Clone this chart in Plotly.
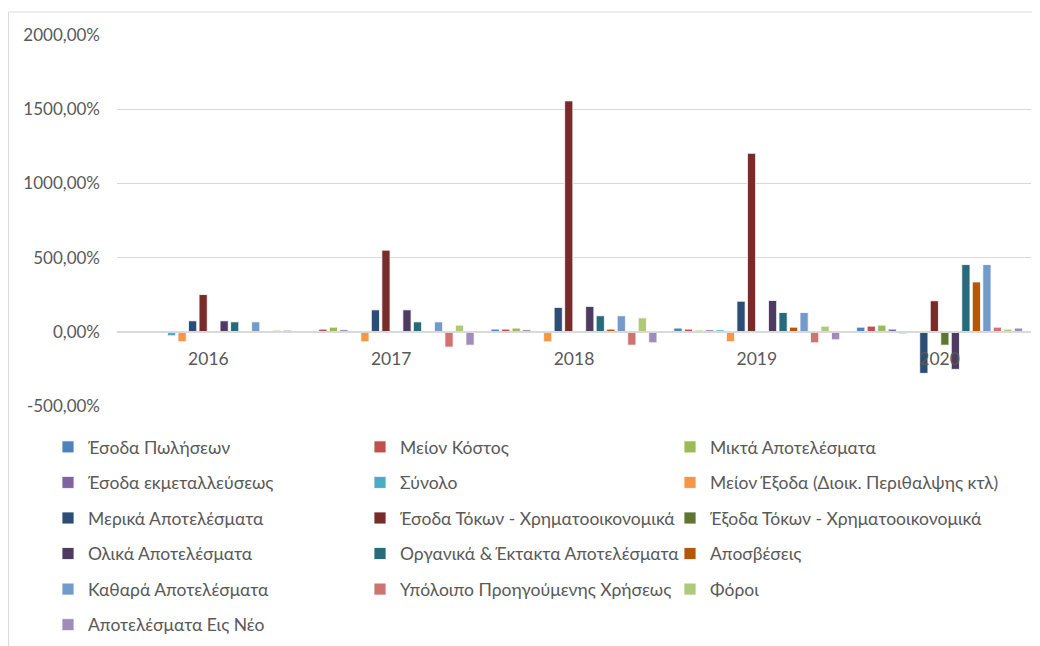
import plotly.graph_objects as go

years = ["2016", "2017", "2018", "2019", "2020"]

series_names = [
    "Έσοδα Πωλήσεων", "Μείον Κόστος", "Μικτά Αποτελέσματα",
    "Έσοδα εκμεταλλεύσεως", "Σύνολο", "Μείον Έξοδα (Διοικ. Περιθαλψης κτλ)",
    "Μερικά Αποτελέσματα", "Έσοδα Τόκων - Χρηματοοικονομικά", "Έξοδα Τόκων - Χρηματοοικονομικά",
    "Ολικά Αποτελέσματα", "Οργανικά & Έκτακτα Αποτελέσματα", "Αποσβέσεις",
    "Καθαρά Αποτελέσματα", "Υπόλοιπο Προηγούμενης Χρήσεως", "Φόροι",
    "Αποτελέσματα Εις Νέο",
]

# percentage change per year
esoda_poliseon = [None, None, 18, 25, 31]
meion_kostos = [None, 18, 18, 18, 38]
mikta = [None, 31, 25, 11, 45]
esoda_ekmet = [-7, 13, 13, 13, 18]
synolo = [-27, None, None, 13, -13]
meion_exoda = [-67, -67, -67, -67, None]
merika = [74, 148, 164, 206, -280]
esoda_tokon = [251, 550, 1556, 1203, 209]
exoda_tokon = [None, None, None, None, -90]
olika = [74, 148, 171, 211, -253]
organika = [67, 67, 108, 130, 453]
aposveseis = [None, None, 18, 31, 336]
kathara = [67, 67, 108, 130, 453]
ypoloipo = [None, -103, -90, -74, 31]
foroi = [11, 45, 94, 38, 18]
eis_neo = [11, -90, -74, -54, 25]

all_values = [
    esoda_poliseon, meion_kostos, mikta, esoda_ekmet, synolo, meion_exoda,
    merika, esoda_tokon, exoda_tokon, olika, organika, aposveseis,
    kathara, ypoloipo, foroi, eis_neo,
]

colors = [
    "#4F81BD", "#C0504D", "#9BBB59", "#8064A2", "#4BACC6", "#F79646",
    "#2C4D75", "#772C2A", "#5F7530", "#4D3B62", "#276A7C", "#B65708",
    "#729ACA", "#CD7371", "#AFC97A", "#A08CBB",
]

y_ticks = [-500, 0, 500, 1000, 1500, 2000]
y_tick_text = ["-500,00%", "0,00%", "500,00%", "1000,00%", "1500,00%", "2000,00%"]

FONT = "Lato, 'Noto Sans', sans-serif"
GREY = "#595959"
legend_ids = ["legend", "legend2", "legend3"]

# plot area in figure pixels (page adds an 8px body margin): x 109..1023, y 27..398
PX_L, PX_W, PX_B, PX_H = 109, 914, 398, 371


def px_x(x):
    return (x - PX_L) / PX_W


def px_y(y):
    return (PX_B - y) / PX_H


fig = go.Figure()
for i, (name, vals) in enumerate(zip(series_names, all_values)):
    fig.add_trace(go.Bar(
        x=years, y=vals, name=name,
        marker=dict(color=colors[i], line=dict(color="white", width=0.8)),
        legend=legend_ids[i % 3], legendgroup=f"g{i}",
    ))

legend_common = dict(
    orientation="v", yanchor="top", y=px_y(421), tracegroupgap=9.8,
    xanchor="left",
    font=dict(family=FONT, size=17.5, color=GREY),
    bgcolor="rgba(0,0,0,0)", itemclick=False,
)

fig.update_layout(
    width=1040, height=646,
    margin=dict(l=PX_L, r=1040 - PX_L - PX_W, t=PX_B - PX_H, b=646 - PX_B, autoexpand=False),
    plot_bgcolor="white", paper_bgcolor="white",
    font=dict(family=FONT, size=17, color=GREY),
    barmode="group", bargap=0.08, bargroupgap=0.22,
    legend=dict(x=px_x(40), **legend_common),
    legend2=dict(x=px_x(352), **legend_common),
    legend3=dict(x=px_x(662), **legend_common),
    xaxis=dict(
        anchor="free", position=0.2, showline=True, linecolor="#D9D9D9", linewidth=2,
        ticks="", showgrid=False, ticklabelstandoff=11, layer="above traces",
        tickfont=dict(size=17.5, color=GREY),
    ),
    yaxis=dict(
        range=[-500, 2000], tickvals=y_ticks, ticktext=y_tick_text,
        showgrid=True, gridcolor="#D9D9D9", gridwidth=1, zeroline=False,
        ticks="", ticklabelstandoff=16, tickfont=dict(size=17, color=GREY),
    ),
    shapes=[dict(
        type="rect", xref="paper", yref="paper",
        x0=px_x(0.5), x1=px_x(1060), y0=px_y(680), y1=px_y(4),
        line=dict(color="#D9D9D9", width=1), fillcolor="rgba(0,0,0,0)", layer="below",
    )],
)

fig.write_html("out.html")
